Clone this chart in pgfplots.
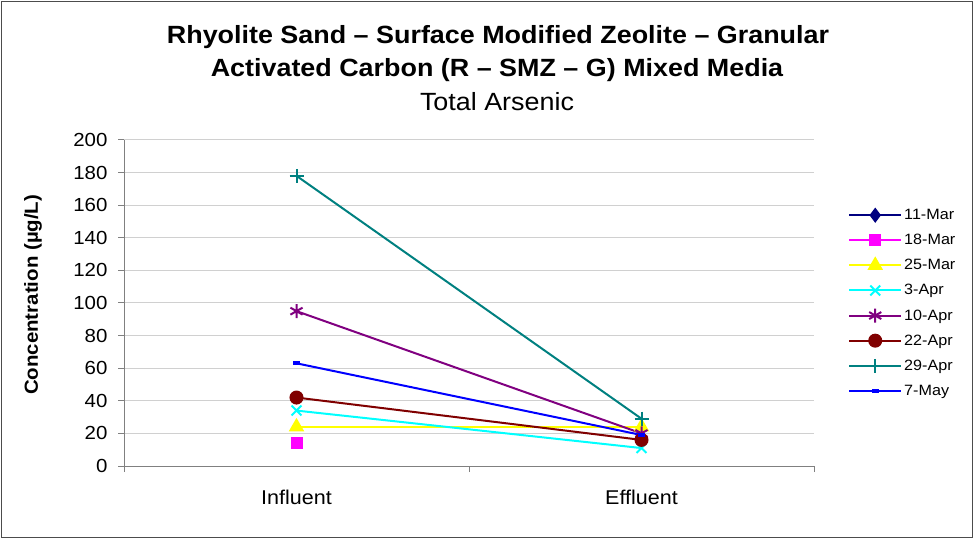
\documentclass[border=0pt]{standalone}
\usepackage{fontspec}
\setmainfont{Liberation Sans}[FakeStretch=1.08]
\usepackage{pgfplots}
\pgfplotsset{compat=1.18}

\definecolor{mar11}{HTML}{000080}
\definecolor{mar18}{HTML}{FF00FF}
\definecolor{mar25}{HTML}{FFFF00}
\definecolor{apr3}{HTML}{00FFFF}
\definecolor{apr10}{HTML}{800080}
\definecolor{apr22}{HTML}{800000}
\definecolor{apr29}{HTML}{008080}
\definecolor{may7}{HTML}{0000FF}
\definecolor{gridgray}{HTML}{D0D0D0}
\definecolor{axisgray}{HTML}{808080}

\begin{document}
\begin{tikzpicture}
\useasboundingbox (0,0) rectangle (974bp,539bp);
\draw[line width=1.2bp, black!70] (1.5bp,1.5bp) rectangle (972.5bp,537.5bp);

% titles
\node[font=\bfseries\fontsize{25}{28}\selectfont] at (498bp,502bp) {Rhyolite Sand – Surface Modified Zeolite – Granular};
\node[font=\bfseries\fontsize{25}{28}\selectfont] at (497bp,469bp) {Activated Carbon (R – SMZ – G) Mixed Media};
\node[font=\fontsize{25}{28}\selectfont] at (497bp,437bp) {Total Arsenic};

\begin{axis}[
    at={(124bp,73bp)}, anchor=south west,
    scale only axis, width=690bp, height=326bp,
    xmin=-0.5, xmax=1.5, ymin=0, ymax=200,
    axis x line*=bottom, axis y line*=left,
    axis line style={axisgray, line width=1bp},
    xtick={-0.5,0.5,1.5}, xticklabels={},
    extra x ticks={0,1}, extra x tick labels={Influent,Effluent},
    extra x tick style={major tick length=0pt},
    ytick={0,20,...,200},
    tick align=outside, major tick length=6bp,
    tick style={axisgray, line width=1bp},
    ymajorgrids, grid style={gridgray, line width=1bp},
    /pgf/number format/assume math mode=true,
    yticklabel style={font=\fontsize{19}{21}\selectfont, xshift=-7bp},
    xticklabel style={font=\fontsize{20}{23}\selectfont, yshift=-21bp},
    ylabel={Concentration (µg/L)},
    ylabel style={font=\bfseries\fontsize{19}{22}\selectfont, at={(rel axis cs:-0.132,0.525)}, anchor=center},
    every axis plot/.append style={line width=2bp},
    legend style={at={(1.045,0.5)}, anchor=west, draw=none, fill=none,
        font=\fontsize{15}{17}\selectfont, row sep=9.2bp,
        legend cell align=left},
    legend image code/.code={
        \draw[mark repeat=2, mark phase=2] plot coordinates {(0bp,0bp) (26bp,0bp) (52bp,0bp)};},
]
\addlegendimage{mar11, mark=diamond*, mark size=6bp}
\addlegendentry{11-Mar}
\addplot[mar18, mark=square*, mark size=5bp] coordinates {(0,14)};
\addlegendentry{18-Mar}
\addplot[mar25, mark=triangle*, mark size=7bp] coordinates {(0,24) (1,24)};
\addlegendentry{25-Mar}
\addplot[apr3, mark=x, mark size=7bp] coordinates {(0,34) (1,11)};
\addlegendentry{3-Apr}
\addplot[apr10, mark=asterisk, mark size=7bp] coordinates {(0,95) (1,20)};
\addlegendentry{10-Apr}
\addplot[apr22, mark=*, mark size=6bp] coordinates {(0,42) (1,16)};
\addlegendentry{22-Apr}
\addplot[apr29, mark=+, mark size=7bp] coordinates {(0,178) (1,29)};
\addlegendentry{29-Apr}
\addplot[may7, mark=-, mark size=3.5bp, mark options={line width=4bp}] coordinates {(0,63) (1,19)};
\addlegendentry{7-May}
\end{axis}
\end{tikzpicture}
\end{document}
